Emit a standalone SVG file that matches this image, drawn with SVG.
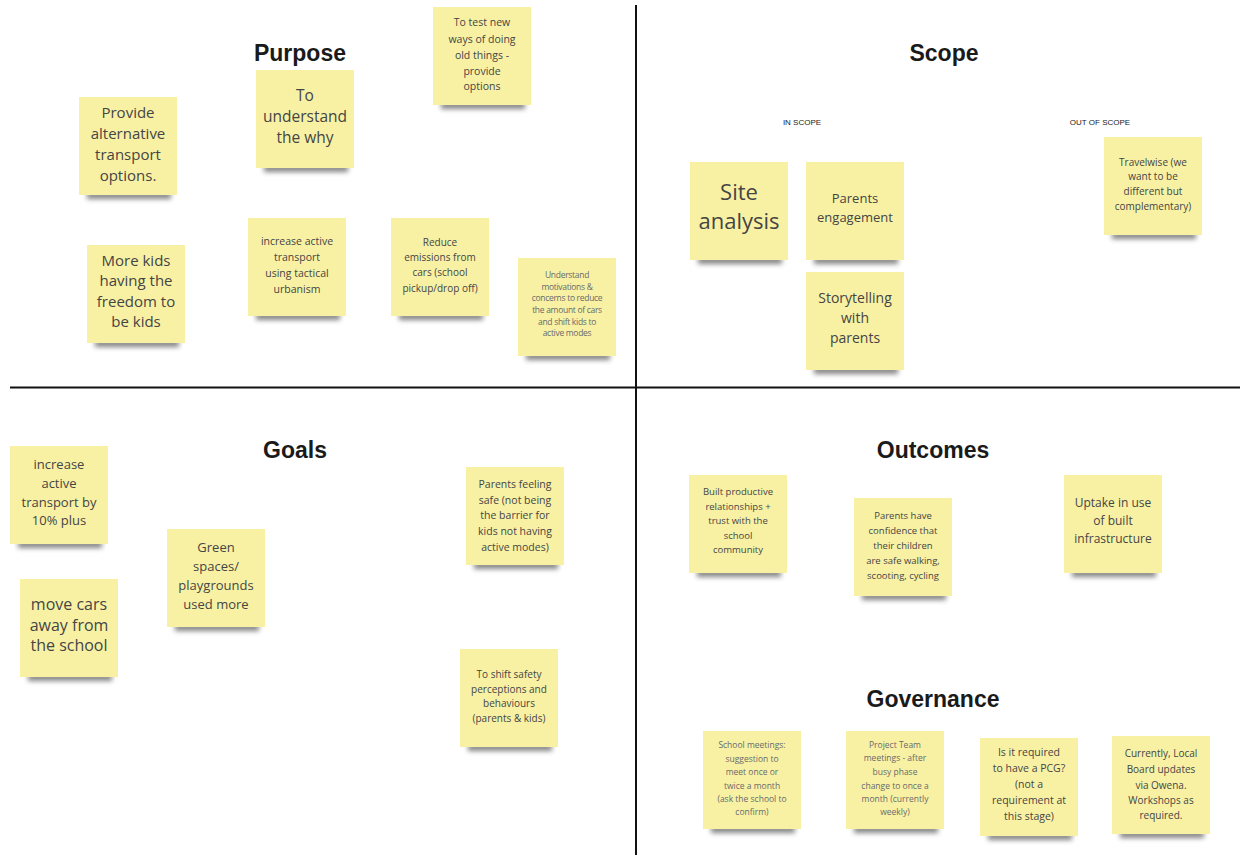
<svg xmlns="http://www.w3.org/2000/svg" width="1240" height="855" viewBox="0 0 1240 855">
<defs>
<filter id="blur" x="-20%" y="-100%" width="140%" height="300%"><feGaussianBlur stdDeviation="2.4"/></filter>
<style>
.bg{fill:#f8f1a4}
.sh{fill:#333;opacity:.6;filter:url(#blur)}
.t{font-family:"Open Sans","Noto Sans",sans-serif;fill:#454545;text-anchor:middle}
.h{font-family:"Liberation Sans",Arial,sans-serif;font-weight:bold;font-size:23px;fill:#1a1a1a;text-anchor:middle}
.lbl{font-family:"Liberation Sans",Arial,sans-serif;font-size:8px;fill:#222;text-anchor:middle}
.div{stroke:#111;stroke-width:2;fill:none}
.faint{fill:#6a6a6a}
</style>
</defs>
<rect width="1240" height="855" fill="#ffffff"/>
<g id="dividers">
<line class="div" x1="10" y1="387.5" x2="1240" y2="387.5"/>
<line class="div" x1="636" y1="5" x2="636" y2="855"/>
</g>
<g id="titles">
<text class="h" x="300" y="61">Purpose</text>
<text class="h" x="944" y="61">Scope</text>
<text class="h" x="295" y="458">Goals</text>
<text class="h" x="933" y="458">Outcomes</text>
<text class="h" x="933" y="707">Governance</text>
<text class="lbl" x="802" y="125">IN SCOPE</text>
<text class="lbl" x="1100" y="125">OUT OF SCOPE</text>
</g>

<g id="p1" transform="translate(79,97)"><rect class="sh" x="8" y="95" width="84" height="7"/><rect class="bg" width="98" height="98"/>
<text class="t" font-size="15"><tspan x="49" y="21">Provide</tspan><tspan x="49" y="42">alternative</tspan><tspan x="49" y="63">transport</tspan><tspan x="49" y="84">options.</tspan></text></g>
<g id="p2" transform="translate(256,70)"><rect class="sh" x="8" y="95" width="84" height="7"/><rect class="bg" width="98" height="98"/>
<text class="t" font-size="15.5"><tspan x="49" y="31">To</tspan><tspan x="49" y="52">understand</tspan><tspan x="49" y="73">the why</tspan></text></g>
<g id="p3" transform="translate(433,7)"><rect class="sh" x="8" y="95" width="84" height="7"/><rect class="bg" width="98" height="98"/>
<text class="t" font-size="10.5"><tspan x="49" y="19">To test new</tspan><tspan x="49" y="36">ways of doing</tspan><tspan x="49" y="52">old things -</tspan><tspan x="49" y="68">provide</tspan><tspan x="49" y="83">options</tspan></text></g>
<g id="p4" transform="translate(87,245)"><rect class="sh" x="8" y="95" width="84" height="7"/><rect class="bg" width="98" height="98"/>
<text class="t" font-size="15"><tspan x="49" y="21">More kids</tspan><tspan x="49" y="41">having the</tspan><tspan x="49" y="62">freedom to</tspan><tspan x="49" y="82">be kids</tspan></text></g>
<g id="p5" transform="translate(248,218)"><rect class="sh" x="8" y="95" width="84" height="7"/><rect class="bg" width="98" height="98"/>
<text class="t" font-size="10.5"><tspan x="49" y="27">increase active</tspan><tspan x="49" y="43">transport</tspan><tspan x="49" y="59">using tactical</tspan><tspan x="49" y="75">urbanism</tspan></text></g>
<g id="p6" transform="translate(391,218)"><rect class="sh" x="8" y="95" width="84" height="7"/><rect class="bg" width="98" height="98"/>
<text class="t" font-size="10"><tspan x="49" y="28">Reduce</tspan><tspan x="49" y="43">emissions from</tspan><tspan x="49" y="58">cars (school</tspan><tspan x="49" y="74">pickup/drop off)</tspan></text></g>
<g id="p7" transform="translate(518,258)"><rect class="sh" x="8" y="95" width="84" height="7"/><rect class="bg" width="98" height="98"/>
<text class="t faint" font-size="8.5" letter-spacing="-0.3"><tspan x="49" y="20">Understand</tspan><tspan x="49" y="32">motivations &amp;</tspan><tspan x="49" y="43">concerns to reduce</tspan><tspan x="49" y="55">the amount of cars</tspan><tspan x="49" y="67">and shift kids to</tspan><tspan x="49" y="78">active modes</tspan></text></g>

<g id="s1" transform="translate(690,162)"><rect class="sh" x="8" y="95" width="84" height="7"/><rect class="bg" width="98" height="98"/>
<text class="t" font-size="22"><tspan x="49" y="38">Site</tspan><tspan x="49" y="67">analysis</tspan></text></g>
<g id="s2" transform="translate(806,162)"><rect class="sh" x="8" y="95" width="84" height="7"/><rect class="bg" width="98" height="98"/>
<text class="t" font-size="13"><tspan x="49" y="41">Parents</tspan><tspan x="49" y="60">engagement</tspan></text></g>
<g id="s3" transform="translate(806,272)"><rect class="sh" x="8" y="95" width="84" height="7"/><rect class="bg" width="98" height="98"/>
<text class="t" font-size="14"><tspan x="49" y="31">Storytelling</tspan><tspan x="49" y="51">with</tspan><tspan x="49" y="71">parents</tspan></text></g>
<g id="s4" transform="translate(1104,137)"><rect class="sh" x="8" y="95" width="84" height="7"/><rect class="bg" width="98" height="98"/>
<text class="t" font-size="10"><tspan x="49" y="29">Travelwise (we</tspan><tspan x="49" y="43">want to be</tspan><tspan x="49" y="58">different but</tspan><tspan x="49" y="73">complementary)</tspan></text></g>

<g id="g1" transform="translate(10,446)"><rect class="sh" x="8" y="95" width="84" height="7"/><rect class="bg" width="98" height="98"/>
<text class="t" font-size="13"><tspan x="49" y="23">increase</tspan><tspan x="49" y="42">active</tspan><tspan x="49" y="61">transport by</tspan><tspan x="49" y="79">10% plus</tspan></text></g>
<g id="g2" transform="translate(20,579)"><rect class="sh" x="8" y="95" width="84" height="7"/><rect class="bg" width="98" height="98"/>
<text class="t" font-size="16"><tspan x="49" y="31">move cars</tspan><tspan x="49" y="52">away from</tspan><tspan x="49" y="72">the school</tspan></text></g>
<g id="g3" transform="translate(167,529)"><rect class="sh" x="8" y="95" width="84" height="7"/><rect class="bg" width="98" height="98"/>
<text class="t" font-size="13"><tspan x="49" y="23">Green</tspan><tspan x="49" y="42">spaces/</tspan><tspan x="49" y="61">playgrounds</tspan><tspan x="49" y="80">used more</tspan></text></g>
<g id="g4" transform="translate(466,467)"><rect class="sh" x="8" y="95" width="84" height="7"/><rect class="bg" width="98" height="98"/>
<text class="t" font-size="10.5"><tspan x="49" y="21">Parents feeling</tspan><tspan x="49" y="37">safe (not being</tspan><tspan x="49" y="52">the barrier for</tspan><tspan x="49" y="68">kids not having</tspan><tspan x="49" y="84">active modes)</tspan></text></g>
<g id="g5" transform="translate(460,649)"><rect class="sh" x="8" y="95" width="84" height="7"/><rect class="bg" width="98" height="98"/>
<text class="t" font-size="10"><tspan x="49" y="29">To shift safety</tspan><tspan x="49" y="44">perceptions and</tspan><tspan x="49" y="58">behaviours</tspan><tspan x="49" y="73">(parents &amp; kids)</tspan></text></g>

<g id="o1" transform="translate(689,475)"><rect class="sh" x="8" y="95" width="84" height="7"/><rect class="bg" width="98" height="98"/>
<text class="t" font-size="9.5"><tspan x="49" y="20">Built productive</tspan><tspan x="49" y="35">relationships +</tspan><tspan x="49" y="49">trust with the</tspan><tspan x="49" y="64">school</tspan><tspan x="49" y="78">community</tspan></text></g>
<g id="o2" transform="translate(854,498)"><rect class="sh" x="8" y="95" width="84" height="7"/><rect class="bg" width="98" height="98"/>
<text class="t" font-size="9.5"><tspan x="49" y="21">Parents have</tspan><tspan x="49" y="36">confidence that</tspan><tspan x="49" y="51">their children</tspan><tspan x="49" y="66">are safe walking,</tspan><tspan x="49" y="81">scooting, cycling</tspan></text></g>
<g id="o3" transform="translate(1064,475)"><rect class="sh" x="8" y="95" width="84" height="7"/><rect class="bg" width="98" height="98"/>
<text class="t" font-size="12"><tspan x="49" y="32">Uptake in use</tspan><tspan x="49" y="50">of built</tspan><tspan x="49" y="68">infrastructure</tspan></text></g>

<g id="v1" transform="translate(703,731)"><rect class="sh" x="8" y="95" width="84" height="7"/><rect class="bg" width="98" height="98"/>
<text class="t faint" font-size="8.5"><tspan x="49" y="17">School meetings:</tspan><tspan x="49" y="31">suggestion to</tspan><tspan x="49" y="44">meet once or</tspan><tspan x="49" y="58">twice a month</tspan><tspan x="49" y="71">(ask the school to</tspan><tspan x="49" y="84">confirm)</tspan></text></g>
<g id="v2" transform="translate(846,731)"><rect class="sh" x="8" y="95" width="84" height="7"/><rect class="bg" width="98" height="98"/>
<text class="t faint" font-size="8.5"><tspan x="49" y="17">Project Team</tspan><tspan x="49" y="30">meetings - after</tspan><tspan x="49" y="44">busy phase</tspan><tspan x="49" y="58">change to once a</tspan><tspan x="49" y="71">month (currently</tspan><tspan x="49" y="84">weekly)</tspan></text></g>
<g id="v3" transform="translate(980,738)"><rect class="sh" x="8" y="95" width="84" height="7"/><rect class="bg" width="98" height="98"/>
<text class="t" font-size="10.5"><tspan x="49" y="18">Is it required</tspan><tspan x="49" y="34">to have a PCG?</tspan><tspan x="49" y="50">(not a</tspan><tspan x="49" y="66">requirement at</tspan><tspan x="49" y="82">this stage)</tspan></text></g>
<g id="v4" transform="translate(1112,736)"><rect class="sh" x="8" y="95" width="84" height="7"/><rect class="bg" width="98" height="98"/>
<text class="t" font-size="10"><tspan x="49" y="21">Currently, Local</tspan><tspan x="49" y="37">Board updates</tspan><tspan x="49" y="53">via Owena.</tspan><tspan x="49" y="68">Workshops as</tspan><tspan x="49" y="83">required.</tspan></text></g>
</svg>
